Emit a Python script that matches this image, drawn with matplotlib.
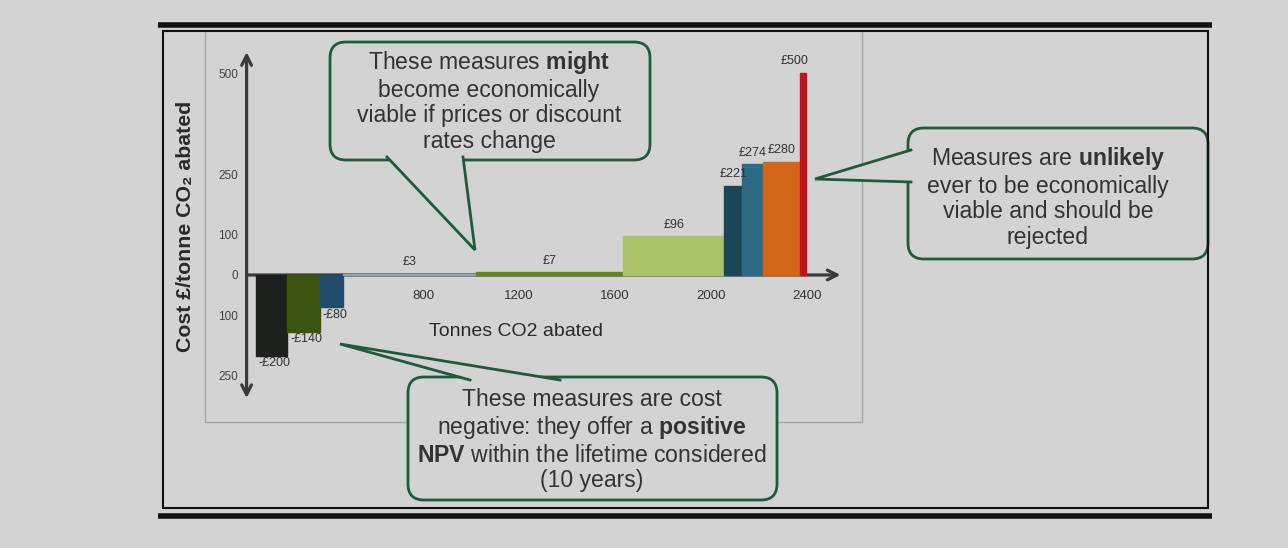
import matplotlib
matplotlib.use("Agg")
import matplotlib.pyplot as plt
from matplotlib.patches import FancyBboxPatch, Polygon, Rectangle
from matplotlib.ticker import FixedLocator, FixedFormatter

# ---------------------------------------------------------------------------
# Marginal abatement cost curve data (left to right along the curve)
# ---------------------------------------------------------------------------
COSTS = [-200, -140, -80, 3, 7, 96, 221, 274, 280, 500]          # £ / tonne CO2
TONNES = [130, 135, 95, 555, 615, 420, 75, 85, 155, 25]           # tonnes abated
START_TONNES = 105

BAR_COLORS = ["#1e201d", "#3b5410", "#1f4d6b", "#86aabb", "#5e8a1c",
              "#a9c36a", "#1c4657", "#2d6a85", "#d4661a", "#c0141c"]

X_TICKS = [800, 1200, 1600, 2000, 2400]
Y_TICKS = [-250, -100, 0, 100, 250, 500]
Y_TICK_LABELS = ["250", "100", "0", "100", "250", "500"]

# ---------------------------------------------------------------------------
# Style
# ---------------------------------------------------------------------------
W, H = 1288, 548
BG = "#d3d3d3"
BOX_EDGE = "#1f5a3a"
TEXT = "#333333"
AXIS_COL = "#3a3a3a"

plt.rcParams["font.family"] = ["Liberation Sans", "DejaVu Sans"]
plt.rcParams["mathtext.fontset"] = "custom"
plt.rcParams["mathtext.rm"] = "Liberation Sans"
plt.rcParams["mathtext.bf"] = "Liberation Sans:bold"


def px_box(x0, y0, x1, y1):
    """Figure-fraction rect from pixel corners (origin top-left)."""
    return [x0 / W, 1 - y1 / H, (x1 - x0) / W, (y1 - y0) / H]


fig = plt.figure(figsize=(W / 100, H / 100), dpi=100)
fig.patch.set_facecolor(BG)

# data axes: 0.24 px per tonne, 0.404 px per £
ax = fig.add_axes(px_box(226.2, 50.0, 855.0, 400.2))
ax.set_xlim(-20, 2600)
ax.set_ylim(-310, 557)
ax.set_facecolor("none")
for side in ["top", "right"]:
    ax.spines[side].set_visible(False)
ax.spines["bottom"].set_position(("data", 0))
ax.spines["left"].set_position(("data", 65))
ax.spines["bottom"].set_color("none")
ax.spines["left"].set_color("none")

lefts = []
pos = START_TONNES
for w in TONNES:
    lefts.append(pos)
    pos += w

# axis arrows (under the bars)
ax.annotate("", xy=(65, 552), xytext=(65, -305),
            arrowprops=dict(arrowstyle="<->,head_length=0.7,head_width=0.35",
                            lw=2.3, color=AXIS_COL, shrinkA=0, shrinkB=0), zorder=1)
ax.annotate("", xy=(2540, 0), xytext=(65, 0),
            arrowprops=dict(arrowstyle="->,head_length=0.7,head_width=0.35",
                            lw=2.3, color=AXIS_COL, shrinkA=0, shrinkB=0), zorder=1)

ax.bar(lefts, COSTS, width=TONNES, align="edge", color=BAR_COLORS,
       edgecolor=BAR_COLORS, linewidth=1.0, zorder=2)

# value labels
for i, (x0, w, c) in enumerate(zip(lefts, TONNES, COSTS)):
    if c < 0:
        ax.annotate(f"-£{abs(c)}", (x0, c), xytext=(2, -1), textcoords="offset points",
                    ha="left", va="top", fontsize=9, color=TEXT, zorder=4)
    else:
        last = i == len(COSTS) - 1
        ax.annotate(f"£{c}", (x0 + w if last else x0 + w / 2, c),
                    xytext=(2 if last else 0, 4), textcoords="offset points",
                    ha="right" if last else "center", va="bottom",
                    fontsize=9, color=TEXT, zorder=4)

ax.xaxis.set_major_locator(FixedLocator(X_TICKS))
ax.yaxis.set_major_locator(FixedLocator(Y_TICKS))
ax.yaxis.set_major_formatter(FixedFormatter(Y_TICK_LABELS))
ax.tick_params(axis="x", length=0, pad=11, labelsize=9.5, labelcolor=TEXT)
ax.tick_params(axis="y", length=0, pad=6, labelsize=8.5, labelcolor="#444444")

# ---------------------------------------------------------------------------
# Overlay in pixel coordinates: frame, labels and callouts
# ---------------------------------------------------------------------------
ov = fig.add_axes([0, 0, 1, 1])
ov.set_xlim(0, W)
ov.set_ylim(H, 0)
ov.axis("off")
ov.set_zorder(3)
ov.patch.set_alpha(0)

# border of the embedded chart panel
ov.plot([205, 205, 862, 862], [31, 422, 422, 31], color="#a5a5a5", lw=1)

ov.text(186, 226, "Cost £/tonne CO₂ abated", rotation=90, ha="center", va="center",
        fontsize=15.3, fontweight="bold", color="#2a2a2a")
ov.text(516, 331, "Tonnes CO2 abated", ha="center", va="center",
        fontsize=14, color="#2a2a2a")


def callout(x0, y0, x1, y1, base, tip, text, cx, cy):
    box = FancyBboxPatch((x0, y0), x1 - x0, y1 - y0,
                         boxstyle="round,pad=0,rounding_size=16",
                         facecolor=BG, edgecolor=BOX_EDGE, lw=2.0, zorder=2)
    ov.add_patch(box)
    (bx0, by0), (bx1, by1) = base
    # hide the box edge under the pointer, then draw the pointer sides
    ov.add_patch(Polygon([(bx0, by0), (bx1, by1), tip], closed=True,
                         facecolor=BG, edgecolor="none", zorder=3))
    ov.plot([bx0, tip[0], bx1], [by0, tip[1], by1], color=BOX_EDGE, lw=2.0,
            zorder=4, solid_joinstyle="miter")
    ov.text(cx, cy, text, ha="center", va="center", fontsize=16.6,
            linespacing=1.15, color=TEXT, zorder=5)


callout(330, 42, 650, 160, [(387, 157), (463, 157)], (475, 250),
        "These measures $\\mathbf{might}$\nbecome economically\n"
        "viable if prices or discount\nrates change", 489, 101)
callout(908, 128, 1208, 259, [(911, 150), (911, 182)], (815, 179),
        "Measures are $\\mathbf{unlikely}$\never to be economically\n"
        "viable and should be\nrejected", 1048, 197)
callout(408, 377, 777, 500, [(470, 380), (560, 380)], (340, 344),
        "These measures are cost\nnegative: they offer a $\\mathbf{positive}$\n"
        "$\\mathbf{NPV}$ within the lifetime considered\n(10 years)", 592, 440)

# outer frame
ov.plot([158, 1212], [25, 25], color="#111111", lw=4, solid_capstyle="butt", zorder=6)
ov.plot([158, 1212], [516, 516], color="#111111", lw=4, solid_capstyle="butt", zorder=6)
ov.add_patch(Rectangle((163, 31), 1045, 477, fill=False, ec="#111111", lw=1.5, zorder=6))

fig.savefig("out.png", dpi=100, facecolor=fig.get_facecolor())
